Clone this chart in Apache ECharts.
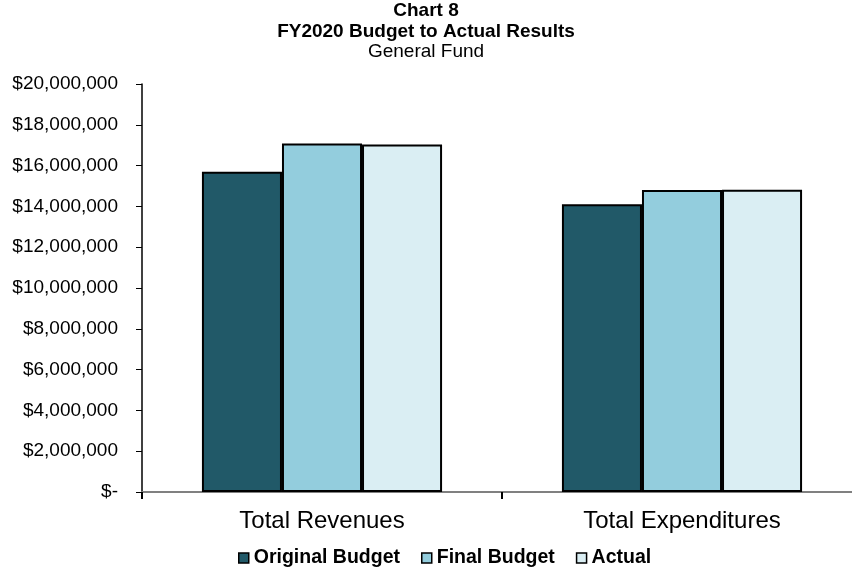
<!DOCTYPE html>
<html><head><meta charset="utf-8">
<script src="https://cdn.jsdelivr.net/npm/echarts@6/dist/echarts.min.js"></script>
<style>html,body{margin:0;padding:0;background:#fff}#c{width:852px;height:569px}</style>
</head><body><div id="c"></div>
<script>
var categories = ["Total Revenues", "Total Expenditures"];
var originalBudget = [15700000, 14100000];
var finalBudget = [17080000, 14800000];
var actual = [17030000, 14820000];
var seriesNames = ["Original Budget", "Final Budget", "Actual"];
var yTicks = [0, 2000000, 4000000, 6000000, 8000000, 10000000, 12000000, 14000000, 16000000, 18000000, 20000000];

var colors = ["#215968", "#93CDDD", "#DAEEF3"];
var FF = 'Liberation Sans, Arial, sans-serif';
var chart = echarts.init(document.getElementById('c'), null, {renderer: 'canvas'});
function fmt(v) {
  if (v === 0) return '$-';
  return '$' + v.toString().replace(/\B(?=(\d{3})+(?!\d))/g, ',');
}
var data = [originalBudget, finalBudget, actual];
chart.setOption({
  animation: false,
  textStyle: {fontFamily: FF},
  title: [
    {text: 'Chart 8', left: 'center', top: 1.5, padding: 0, textStyle: {fontSize: 19, fontWeight: 'bold', color: '#000', fontFamily: FF}},
    {text: 'FY2020 Budget to Actual Results', left: 'center', top: 22, padding: 0, textStyle: {fontSize: 19, fontWeight: 'bold', color: '#000', fontFamily: FF}},
    {text: 'General Fund', left: 'center', top: 42, padding: 0, textStyle: {fontSize: 19, fontWeight: 'normal', color: '#000', fontFamily: FF}}
  ],
  legend: {
    top: 543, left: 233,
    itemWidth: 10, itemHeight: 10, itemGap: 21,
    icon: 'rect',
    itemStyle: {borderColor: '#000', borderWidth: 1.5},
    textStyle: {fontSize: 19.5, fontWeight: 'bold', color: '#000', fontFamily: FF},
    data: seriesNames
  },
  grid: {left: 142, width: 720, top: 84, height: 408, containLabel: false, outerBoundsMode: 'none'},
  xAxis: {
    type: 'category', data: categories,
    axisLine: {lineStyle: {color: '#808080', width: 2}},
    axisTick: {show: true, length: 7, lineStyle: {color: '#000', width: 2}},
    axisLabel: {fontSize: 24, color: '#000', margin: 17, fontFamily: FF}
  },
  yAxis: {
    type: 'value', min: 0, max: 20000000, interval: 2000000,
    axisLine: {show: true, lineStyle: {color: '#000', width: 1.5}},
    axisTick: {show: true, length: 6, lineStyle: {color: '#000'}},
    splitLine: {show: false},
    axisLabel: {fontSize: 19, color: '#000', margin: 24, formatter: fmt, fontFamily: FF}
  },
  series: seriesNames.map(function (n, i) {
    return {
      name: n, type: 'bar', data: data[i],
      barGap: '0%', barCategoryGap: '33.3%',
      itemStyle: {color: colors[i], borderColor: '#000', borderWidth: 2}
    };
  })
});
</script></body></html>
